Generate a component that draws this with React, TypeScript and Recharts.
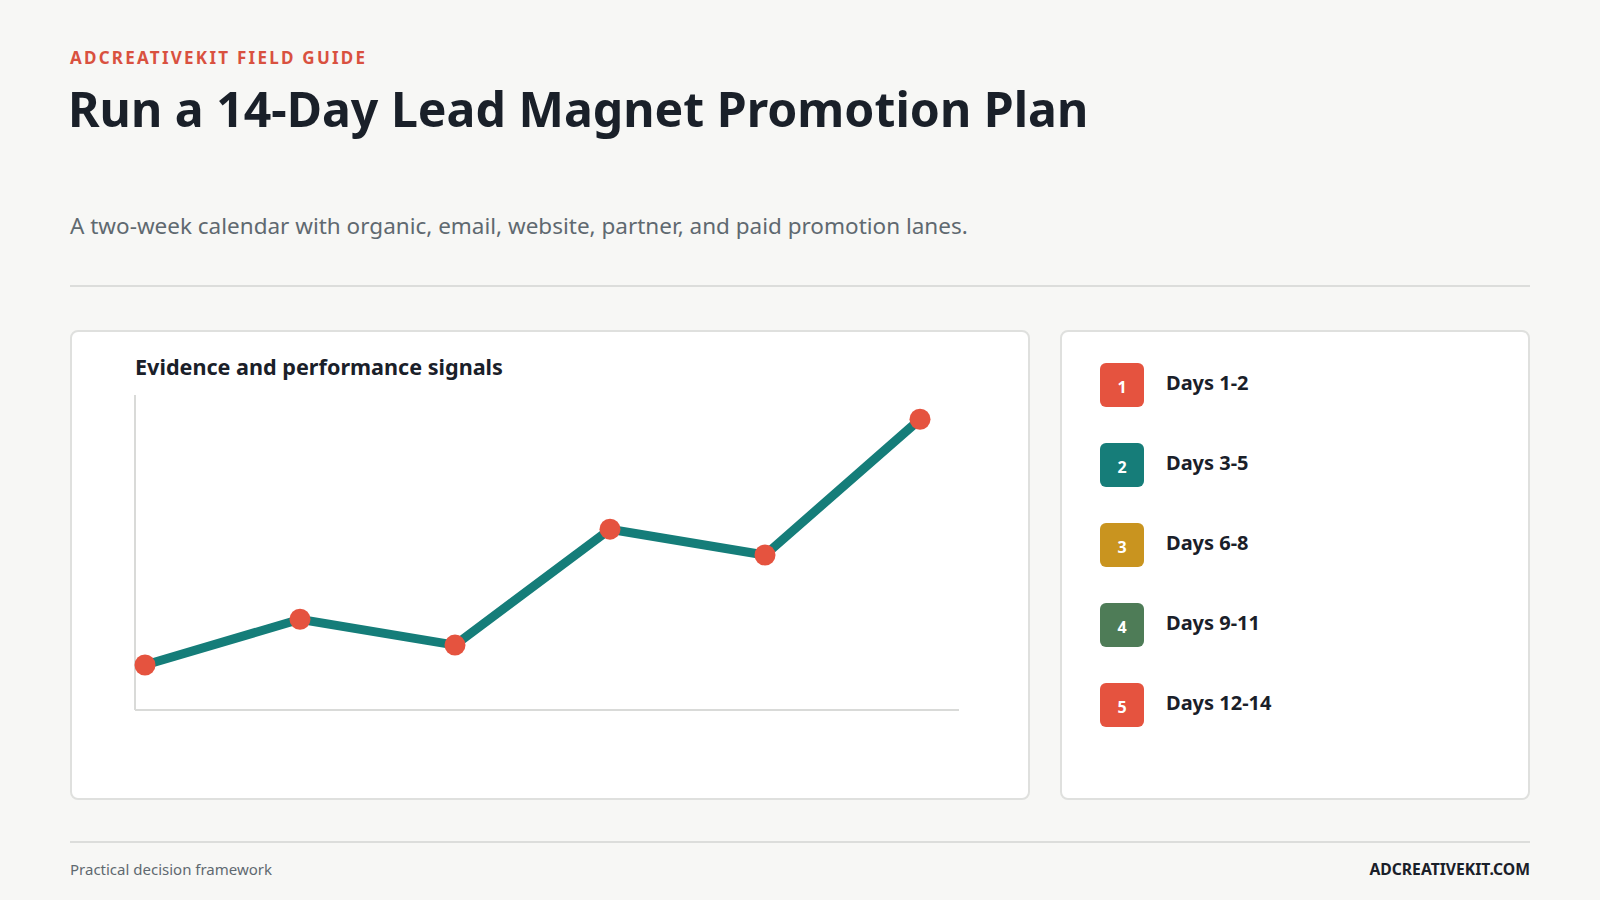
import React from "react";
import { LineChart, Line, XAxis, YAxis } from "recharts";

const stages = ["Days 1-2", "Days 3-5", "Days 6-8", "Days 9-11", "Days 12-14"];
const stageColors = ["#e5533f", "#167d79", "#c9941f", "#4e7c57", "#e5533f"];
const signalLabels = ["P1", "P2", "P3", "P4", "P5", "P6"];
const signalValues = [14.3, 28.8, 20.6, 57.4, 49.2, 92.3];

const chartData = signalLabels.map((label, i) => ({ label, value: signalValues[i] }));

const FONT = "'Noto Sans', 'Open Sans', sans-serif";

export default function App() {
  return (
    <div
      style={{
        position: "absolute",
        left: 0,
        top: 0,
        width: 1600,
        height: 900,
        background: "#f7f7f5",
        fontFamily: FONT,
        color: "#1b222b",
        overflow: "hidden",
      }}
    >
      <div
        style={{
          position: "absolute",
          left: 70,
          top: 46,
          fontSize: 17,
          fontWeight: 700,
          letterSpacing: 2.25,
          color: "#d9513f",
          lineHeight: "24px",
        }}
      >
        ADCREATIVEKIT FIELD GUIDE
      </div>
      <div
        style={{
          position: "absolute",
          left: 68,
          top: 75,
          fontSize: 48.2,
          fontWeight: 700,
          lineHeight: "66px",
          color: "#1a2029",
          whiteSpace: "nowrap",
        }}
      >
        Run a 14-Day Lead Magnet Promotion Plan
      </div>
      <div
        style={{
          position: "absolute",
          left: 70,
          top: 211,
          fontSize: 22.5,
          lineHeight: "30px",
          color: "#5f6970",
          whiteSpace: "nowrap",
        }}
      >
        A two-week calendar with organic, email, website, partner, and paid promotion lanes.
      </div>
      <div
        style={{
          position: "absolute",
          left: 70,
          top: 285,
          width: 1460,
          height: 2,
          background: "#dcdddb",
        }}
      />

      {/* left card */}
      <div
        style={{
          position: "absolute",
          left: 70,
          top: 330,
          width: 960,
          height: 470,
          boxSizing: "border-box",
          background: "#ffffff",
          border: "2px solid #dfe0de",
          borderRadius: 8,
        }}
      />
      <div
        style={{
          position: "absolute",
          left: 135,
          top: 352,
          fontSize: 21.6,
          fontWeight: 700,
          lineHeight: "30px",
          color: "#1a2029",
          whiteSpace: "nowrap",
        }}
      >
        Evidence and performance signals
      </div>
      <div style={{ position: "absolute", left: 125, top: 385 }}>
        <LineChart
          width={850}
          height={336}
          data={chartData}
          margin={{ top: 10, right: 16, bottom: 10, left: 9 }}
        >
          <XAxis
            dataKey="label"
            tick={false}
            tickLine={false}
            height={1}
            axisLine={{ stroke: "#d9dad8", strokeWidth: 2 }}
            padding={{ left: 10, right: 39 }}
          />
          <YAxis
            domain={[0, 100]}
            tick={false}
            tickLine={false}
            width={1}
            axisLine={{ stroke: "#d9dad8", strokeWidth: 2 }}
          />
          <Line
            type="linear"
            dataKey="value"
            stroke="#157d79"
            strokeWidth={9}
            dot={{ r: 10.5, fill: "#e5533f", stroke: "#e5533f", strokeWidth: 0 }}
            activeDot={false}
            isAnimationActive={false}
          />
        </LineChart>
      </div>

      {/* right card */}
      <div
        style={{
          position: "absolute",
          left: 1060,
          top: 330,
          width: 470,
          height: 470,
          boxSizing: "border-box",
          background: "#ffffff",
          border: "2px solid #dfe0de",
          borderRadius: 8,
        }}
      />
      {stages.map((s, i) => (
        <div
          key={s}
          style={{
            position: "absolute",
            left: 1100,
            top: 363 + i * 80,
            height: 44,
            display: "flex",
            alignItems: "center",
          }}
        >
          <div
            style={{
              width: 44,
              height: 44,
              borderRadius: 6,
              background: stageColors[i],
              color: "#ffffff",
              fontSize: 16,
              fontWeight: 700,
              display: "flex",
              alignItems: "center",
              justifyContent: "center",
              paddingTop: 4,
              boxSizing: "border-box",
            }}
          >
            {i + 1}
          </div>
          <div
            style={{
              marginLeft: 22,
              fontSize: 20,
              fontWeight: 700,
              color: "#1a2029",
              whiteSpace: "nowrap",
              marginTop: -6,
            }}
          >
            {s}
          </div>
        </div>
      ))}

      <div
        style={{
          position: "absolute",
          left: 70,
          top: 841,
          width: 1460,
          height: 2,
          background: "#dcdddb",
        }}
      />
      <div
        style={{
          position: "absolute",
          left: 70,
          top: 858,
          fontSize: 15,
          lineHeight: "22px",
          color: "#5f6970",
        }}
      >
        Practical decision framework
      </div>
      <div
        style={{
          position: "absolute",
          right: 70,
          top: 858,
          fontSize: 15.7,
          lineHeight: "22px",
          fontWeight: 700,
          color: "#1a2029",
        }}
      >
        ADCREATIVEKIT.COM
      </div>
    </div>
  );
}
